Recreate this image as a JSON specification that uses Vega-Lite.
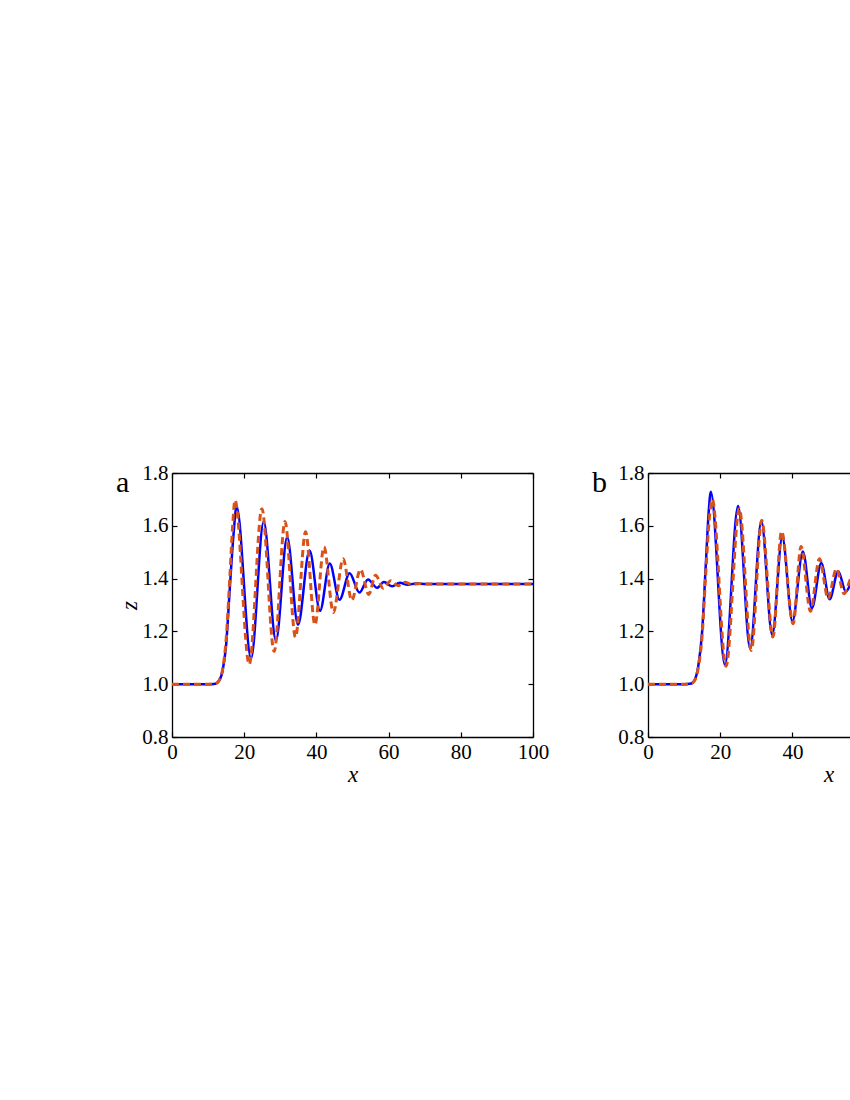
{
  "$schema": "https://vega.github.io/schema/vega-lite/v6.json",
  "padding": {"left": 116, "top": 462, "right": 0, "bottom": 0},
  "background": "white",
  "config": {
    "font": "Liberation Serif",
    "view": {"stroke": null},
    "axis": {
      "grid": false,
      "domainColor": "black",
      "domainWidth": 1.3,
      "tickColor": "black",
      "tickWidth": 1.2,
      "tickSize": -5,
      "labelPadding": 9,
      "labelFont": "Liberation Serif",
      "labelFontSize": 21,
      "labelColor": "black",
      "titleFont": "Liberation Serif",
      "titleFontSize": 23,
      "titleFontStyle": "italic",
      "titleFontWeight": "normal",
      "titleColor": "black",
      "labelFlush": false,
      "labelOverlap": false,
      "labelBound": false
    },
    "title": {"font": "Liberation Serif", "fontSize": 30, "fontWeight": "normal", "color": "black", "anchor": "start", "frame": "group", "offset": 0}
  },
  "datasets": {
    "a_blue": [
      {"x": 0, "z": 1.0}, {"x": 10, "z": 1.0}, {"x": 12, "z": 1.002}, {"x": 13, "z": 1.012}, {"x": 14, "z": 1.05}, {"x": 15, "z": 1.15}, {"x": 16, "z": 1.36}, {"x": 17, "z": 1.56},
      {"x": 17.9, "z": 1.673}, {"x": 21.9, "z": 1.098}, {"x": 25.4, "z": 1.616}, {"x": 28.8, "z": 1.165}, {"x": 31.9, "z": 1.557}, {"x": 34.9, "z": 1.225},
      {"x": 38.1, "z": 1.506}, {"x": 41.0, "z": 1.278}, {"x": 43.7, "z": 1.457}, {"x": 46.4, "z": 1.32}, {"x": 49.2, "z": 1.42}, {"x": 51.9, "z": 1.347},
      {"x": 54.3, "z": 1.397}, {"x": 56.8, "z": 1.365}, {"x": 58.7, "z": 1.387}, {"x": 61.0, "z": 1.371}, {"x": 63.1, "z": 1.384}, {"x": 65.3, "z": 1.377},
      {"x": 67.5, "z": 1.381}, {"x": 70, "z": 1.38}, {"x": 100, "z": 1.38}
    ],
    "a_red": [
      {"x": 0, "z": 1.0}, {"x": 10, "z": 1.0}, {"x": 12, "z": 1.002}, {"x": 13, "z": 1.013}, {"x": 14, "z": 1.055}, {"x": 15, "z": 1.17}, {"x": 16, "z": 1.4}, {"x": 16.8, "z": 1.6},
      {"x": 17.45, "z": 1.697}, {"x": 21.4, "z": 1.075}, {"x": 24.9, "z": 1.665}, {"x": 28.3, "z": 1.124}, {"x": 31.3, "z": 1.616}, {"x": 34.2, "z": 1.178},
      {"x": 37.0, "z": 1.577}, {"x": 39.6, "z": 1.225}, {"x": 42.1, "z": 1.52}, {"x": 44.7, "z": 1.272}, {"x": 47.4, "z": 1.475}, {"x": 49.8, "z": 1.318},
      {"x": 52.2, "z": 1.435}, {"x": 54.5, "z": 1.34}, {"x": 56.4, "z": 1.413}, {"x": 58.5, "z": 1.363}, {"x": 60.6, "z": 1.392}, {"x": 62.6, "z": 1.373},
      {"x": 64.5, "z": 1.386}, {"x": 66.5, "z": 1.378}, {"x": 68.5, "z": 1.381}, {"x": 70, "z": 1.38}, {"x": 100, "z": 1.38}
    ],
    "b_blue": [
      {"x": 0, "z": 1.0}, {"x": 10, "z": 1.0}, {"x": 12, "z": 1.003}, {"x": 13, "z": 1.018}, {"x": 14, "z": 1.075}, {"x": 15, "z": 1.2}, {"x": 16, "z": 1.45}, {"x": 16.8, "z": 1.65},
      {"x": 17.4, "z": 1.729}, {"x": 21.3, "z": 1.073}, {"x": 24.95, "z": 1.675}, {"x": 28.3, "z": 1.135}, {"x": 31.4, "z": 1.617}, {"x": 34.4, "z": 1.187},
      {"x": 37.2, "z": 1.557}, {"x": 40.0, "z": 1.238}, {"x": 42.9, "z": 1.503}, {"x": 45.4, "z": 1.288}, {"x": 48.0, "z": 1.459}, {"x": 50.3, "z": 1.322},
      {"x": 52.7, "z": 1.428}, {"x": 54.8, "z": 1.351}, {"x": 57.2, "z": 1.405}, {"x": 59.4, "z": 1.362}, {"x": 61.6, "z": 1.392}, {"x": 63.8, "z": 1.37},
      {"x": 66, "z": 1.386}, {"x": 68.2, "z": 1.375}, {"x": 70.5, "z": 1.382}, {"x": 73, "z": 1.38}, {"x": 100, "z": 1.38}
    ],
    "b_red": [
      {"x": 0, "z": 1.0}, {"x": 10, "z": 1.0}, {"x": 12, "z": 1.003}, {"x": 13, "z": 1.016}, {"x": 14, "z": 1.068}, {"x": 15, "z": 1.185}, {"x": 16, "z": 1.42}, {"x": 17, "z": 1.63},
      {"x": 17.8, "z": 1.70}, {"x": 21.6, "z": 1.068}, {"x": 25.3, "z": 1.665}, {"x": 28.6, "z": 1.128}, {"x": 31.5, "z": 1.621}, {"x": 34.6, "z": 1.179},
      {"x": 37.0, "z": 1.579}, {"x": 40.2, "z": 1.229}, {"x": 42.4, "z": 1.522}, {"x": 45.0, "z": 1.276}, {"x": 47.5, "z": 1.475}, {"x": 49.9, "z": 1.325},
      {"x": 52.2, "z": 1.437}, {"x": 54.3, "z": 1.343}, {"x": 56.7, "z": 1.41}, {"x": 58.8, "z": 1.358}, {"x": 61.0, "z": 1.395}, {"x": 63.3, "z": 1.368},
      {"x": 65.5, "z": 1.388}, {"x": 67.7, "z": 1.374}, {"x": 70, "z": 1.382}, {"x": 72.5, "z": 1.38}, {"x": 100, "z": 1.38}
    ]
  },
  "bounds": "flush",
  "spacing": 115,
  "hconcat": [
    {
      "width": 361,
      "height": 264,
      "title": {"text": "a", "dx": -56, "dy": 64, "baseline": "alphabetic"},
      "layer": [
        {
          "data": {"name": "a_blue"},
          "mark": {"type": "line", "color": "#0000FF", "strokeWidth": 2.5, "interpolate": "monotone"},
          "encoding": {
            "x": {"field": "x", "type": "quantitative", "scale": {"domain": [0, 100], "nice": false},
                  "axis": {"orient": "bottom", "values": [0, 20, 40, 60, 80, 100], "title": "x", "titlePadding": 1, "labelFont": "Liberation Serif"}},
            "y": {"field": "z", "type": "quantitative", "scale": {"domain": [0.8, 1.8], "nice": false, "zero": false},
                  "axis": {"orient": "left", "values": [0.8, 1.0, 1.2, 1.4, 1.6, 1.8], "format": ".1f", "title": "z", "titlePadding": 0, "labelFont": "Liberation Serif"}}
          }
        },
        {
          "data": {"name": "a_red"},
          "mark": {"type": "line", "color": "#D95319", "strokeWidth": 3, "strokeDash": [7, 4], "interpolate": "monotone"},
          "encoding": {
            "x": {"field": "x", "type": "quantitative", "scale": {"domain": [0, 100], "nice": false},
                  "axis": {"orient": "top", "values": [0, 20, 40, 60, 80, 100], "labels": false, "title": null}},
            "y": {"field": "z", "type": "quantitative", "scale": {"domain": [0.8, 1.8], "nice": false, "zero": false},
                  "axis": {"orient": "right", "values": [0.8, 1.0, 1.2, 1.4, 1.6, 1.8], "labels": false, "title": null}}
          }
        }
      ],
      "resolve": {"axis": {"x": "independent", "y": "independent"}}
    },
    {
      "width": 361,
      "height": 264,
      "title": {"text": "b", "dx": -56, "dy": 64, "baseline": "alphabetic"},
      "layer": [
        {
          "data": {"name": "b_blue"},
          "mark": {"type": "line", "color": "#0000FF", "strokeWidth": 2.5, "interpolate": "monotone"},
          "encoding": {
            "x": {"field": "x", "type": "quantitative", "scale": {"domain": [0, 100], "nice": false},
                  "axis": {"orient": "bottom", "values": [0, 20, 40, 60, 80, 100], "title": "x", "titlePadding": 1, "labelFont": "Liberation Serif"}},
            "y": {"field": "z", "type": "quantitative", "scale": {"domain": [0.8, 1.8], "nice": false, "zero": false},
                  "axis": {"orient": "left", "values": [0.8, 1.0, 1.2, 1.4, 1.6, 1.8], "format": ".1f", "title": null, "labelFont": "Liberation Serif"}}
          }
        },
        {
          "data": {"name": "b_red"},
          "mark": {"type": "line", "color": "#D95319", "strokeWidth": 3, "strokeDash": [7, 4], "interpolate": "monotone"},
          "encoding": {
            "x": {"field": "x", "type": "quantitative", "scale": {"domain": [0, 100], "nice": false},
                  "axis": {"orient": "top", "values": [0, 20, 40, 60, 80, 100], "labels": false, "title": null}},
            "y": {"field": "z", "type": "quantitative", "scale": {"domain": [0.8, 1.8], "nice": false, "zero": false},
                  "axis": {"orient": "right", "values": [0.8, 1.0, 1.2, 1.4, 1.6, 1.8], "labels": false, "title": null}}
          }
        }
      ],
      "resolve": {"axis": {"x": "independent", "y": "independent"}}
    }
  ]
}
